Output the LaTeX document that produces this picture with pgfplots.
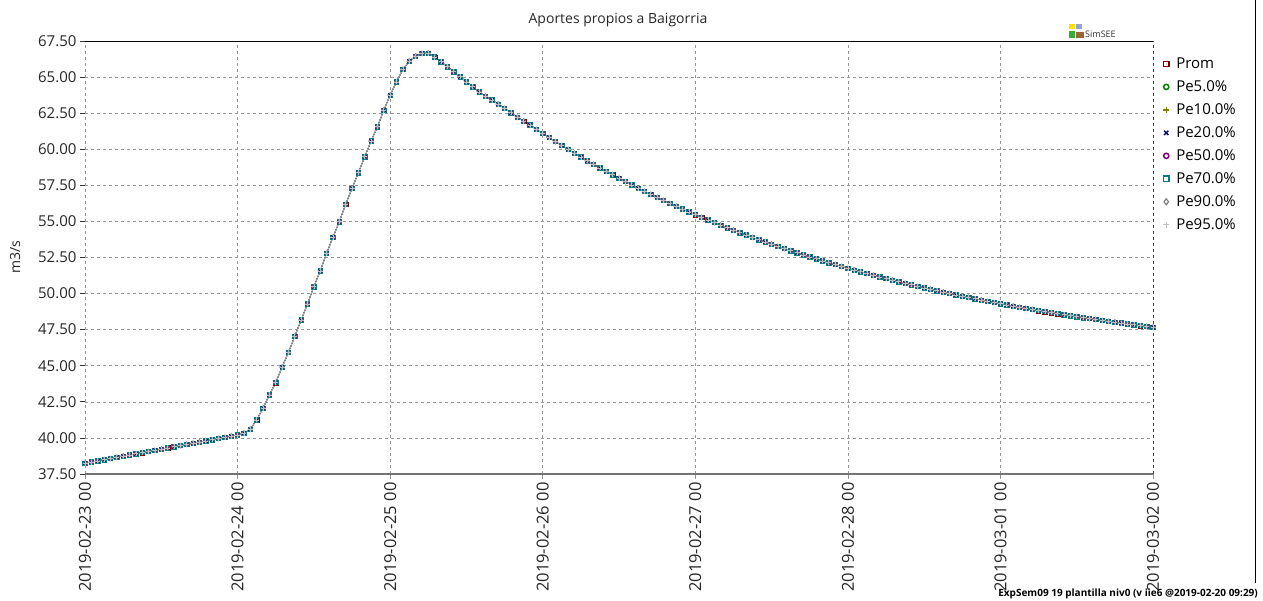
\documentclass[border=0pt]{standalone}
\usepackage{fontspec}
\setmainfont{Open Sans}
\usepackage{pgfplots}
\usepackage{pgfplotstable}
\pgfplotsset{compat=1.18}

\definecolor{cprom}{RGB}{128,0,0}
\definecolor{cpe5}{RGB}{0,128,0}
\definecolor{cpe10}{RGB}{128,128,0}
\definecolor{cpe20}{RGB}{0,0,128}
\definecolor{cpe50}{RGB}{128,0,128}
\definecolor{cpe70}{RGB}{0,128,128}
\definecolor{cpe90}{RGB}{128,128,128}
\definecolor{cpe95}{RGB}{192,192,192}
\definecolor{gridgray}{RGB}{150,150,150}

% hourly values, t = hours since 2019-02-23 00
\pgfplotstableread{
t v
0 38.25
1 38.33
2 38.41
3 38.49
4 38.57
5 38.66
6 38.74
7 38.82
8 38.90
9 38.98
10 39.06
11 39.14
12 39.22
13 39.31
14 39.39
15 39.47
16 39.55
17 39.63
18 39.71
19 39.79
20 39.87
21 39.96
22 40.04
23 40.12
24 40.20
25 40.33
26 40.60
27 41.25
28 42.06
29 42.98
30 43.83
31 44.90
32 45.93
33 47.04
34 48.17
35 49.28
36 50.48
37 51.57
38 52.79
39 53.90
40 54.98
41 56.18
42 57.29
43 58.37
44 59.48
45 60.57
46 61.56
47 62.71
48 63.75
49 64.67
50 65.53
51 66.10
52 66.45
53 66.64
54 66.66
55 66.39
56 66.06
57 65.72
58 65.37
59 65.02
60 64.67
61 64.33
62 63.98
63 63.68
64 63.41
65 63.13
66 62.83
67 62.53
68 62.21
69 61.95
70 61.68
71 61.38
72 61.09
73 60.81
74 60.53
75 60.26
76 59.99
77 59.72
78 59.46
79 59.20
80 58.95
81 58.71
82 58.46
83 58.23
84 57.99
85 57.76
86 57.53
87 57.31
88 57.09
89 56.88
90 56.67
91 56.46
92 56.25
93 56.05
94 55.86
95 55.66
96 55.47
97 55.28
98 55.10
99 54.92
100 54.74
101 54.56
102 54.39
103 54.22
104 54.06
105 53.89
106 53.73
107 53.58
108 53.42
109 53.27
110 53.12
111 52.97
112 52.83
113 52.68
114 52.54
115 52.41
116 52.27
117 52.14
118 52.01
119 51.88
120 51.75
121 51.63
122 51.51
123 51.39
124 51.27
125 51.15
126 51.04
127 50.93
128 50.82
129 50.71
130 50.61
131 50.50
132 50.40
133 50.30
134 50.20
135 50.10
136 50.01
137 49.91
138 49.82
139 49.73
140 49.64
141 49.55
142 49.46
143 49.38
144 49.30
145 49.21
146 49.13
147 49.05
148 48.98
149 48.90
150 48.82
151 48.75
152 48.68
153 48.61
154 48.54
155 48.47
156 48.40
157 48.33
158 48.27
159 48.21
160 48.14
161 48.08
162 48.02
163 47.96
164 47.90
165 47.84
166 47.78
167 47.73
168 47.67
}\aportes

\begin{document}
\begin{tikzpicture}
\useasboundingbox (0,0) rectangle (1263pt,600pt);

\begin{axis}[
at={(85pt,126pt)}, anchor=south west,
width=1068pt, height=433pt, scale only axis,
clip=false,
xmin=0, xmax=168,
ymin=37.5, ymax=67.5,
xtick={0,24,...,168},
xticklabels={2019-02-23 00,2019-02-24 00,2019-02-25 00,2019-02-26 00,2019-02-27 00,2019-02-28 00,2019-03-01 00,2019-03-02 00},
ytick={37.5,40,42.5,45,47.5,50,52.5,55,57.5,60,62.5,65,67.5},
yticklabel={\pgfmathprintnumber[fixed,fixed zerofill,precision=2,assume math mode=true]{\tick}},
xticklabel style={rotate=90, anchor=east, font=\fontsize{16.5}{17}\selectfont, text=black!85},
yticklabel style={font=\fontsize{15}{16}\selectfont, text=black!85},
tick pos=left, tick align=outside,
major tick length=5pt,
ytick style={draw=black!80, line width=0.7pt},
xtick style={draw=gridgray, line width=0.6pt},
grid=major,
major grid style={gridgray, line width=0.6pt, dash pattern=on 3pt off 3pt},
axis line style={draw=none},
legend style={at={(1.0094,0.966)}, anchor=north west, draw=none, fill=none,
  font=\fontsize{15}{17}\selectfont, row sep=6.6pt, column sep=5pt, inner sep=0pt},
legend cell align=left,
]

\addplot[cprom, line width=0.6pt, mark=square, mark size=2.2pt, forget plot] table[x=t,y=v] {\aportes};
\addplot[cpe5, line width=0.6pt, mark=o, mark size=2.2pt, forget plot] table[x=t,y=v] {\aportes};
\addplot[cpe10, line width=0.6pt, mark=+, mark size=2.5pt, forget plot] table[x=t,y=v] {\aportes};
\addplot[cpe50, line width=0.6pt, mark=o, mark size=2pt, forget plot] table[x=t,y=v] {\aportes};
\addplot[cpe70, line width=0.7pt, mark=square, mark size=2.2pt, forget plot] table[x=t,y=v] {\aportes};
\addplot[cpe20, line width=0.5pt, mark=x, mark size=2.5pt, mark options={line width=0.9pt}, forget plot] table[x=t,y=v] {\aportes};
\addplot[cpe90, line width=0.6pt, mark=diamond, mark size=2.5pt, forget plot] table[x=t,y=v] {\aportes};
\addplot[cpe95, line width=0.6pt, mark=+, mark size=2.5pt, forget plot] table[x=t,y=v] {\aportes};

\addlegendimage{only marks, cprom, mark=square, mark size=2.6pt, mark options={line width=1.5pt}}
\addlegendentry{Prom}
\addlegendimage{only marks, cpe5, mark=o, mark size=2.6pt, mark options={line width=1.5pt}}
\addlegendentry{Pe5.0\%}
\addlegendimage{only marks, cpe10, mark=+, mark size=3pt, mark options={line width=1.5pt}}
\addlegendentry{Pe10.0\%}
\addlegendimage{only marks, cpe20, mark=x, mark size=3pt, mark options={line width=1.5pt}}
\addlegendentry{Pe20.0\%}
\addlegendimage{only marks, cpe50, mark=o, mark size=2.6pt, mark options={line width=1.5pt}}
\addlegendentry{Pe50.0\%}
\addlegendimage{only marks, cpe70, mark=square, mark size=2.6pt, mark options={line width=1.5pt}}
\addlegendentry{Pe70.0\%}
\addlegendimage{only marks, cpe90, mark=diamond, mark size=3pt, mark options={line width=1.2pt}}
\addlegendentry{Pe90.0\%}
\addlegendimage{only marks, cpe95, mark=+, mark size=3pt, mark options={line width=1.2pt}}
\addlegendentry{Pe95.0\%}

% frame: top solid, bottom grey, right dashed
\draw[black, line width=0.8pt] (rel axis cs:0,1) -- (rel axis cs:1,1);
\draw[black!55, line width=1.6pt] (rel axis cs:0,0) -- (rel axis cs:1,0);
\draw[black!75, line width=0.8pt, dash pattern=on 3pt off 3pt] (rel axis cs:1,0) -- (rel axis cs:1,1);
\end{axis}

% title, axis label, logo, footer
\node[font=\fontsize{14}{16}\selectfont, text=black!85] at (618pt,580pt) {Aportes propios a Baigorria};
\node[font=\fontsize{14}{16}\selectfont, text=black!85, rotate=90] at (15pt,343pt) {m3/s};

\fill[yellow!85!orange] (1069pt,571pt) rectangle (1075pt,576pt);
\fill[cyan!40!blue!45] (1076pt,571pt) rectangle (1082pt,576pt);
\fill[green!60!black!80] (1069pt,562pt) rectangle (1075pt,569pt);
\fill[brown!80!black] (1076pt,562pt) rectangle (1084pt,568pt);
\node[font=\fontsize{9}{10}\selectfont, anchor=base west, inner sep=0pt, text=black!80] at (1085pt,562pt) {SimSEE};

\draw[black, line width=0.8pt] (1255pt,600pt) -- (1255pt,17pt);
\node[font=\bfseries\fontsize{10}{11}\selectfont, anchor=base east, inner sep=0pt] at (1258pt,4pt)
  {ExpSem09 19 plantilla niv0 (v iie6 @2019-02-20 09:29)};
\end{tikzpicture}
\end{document}
